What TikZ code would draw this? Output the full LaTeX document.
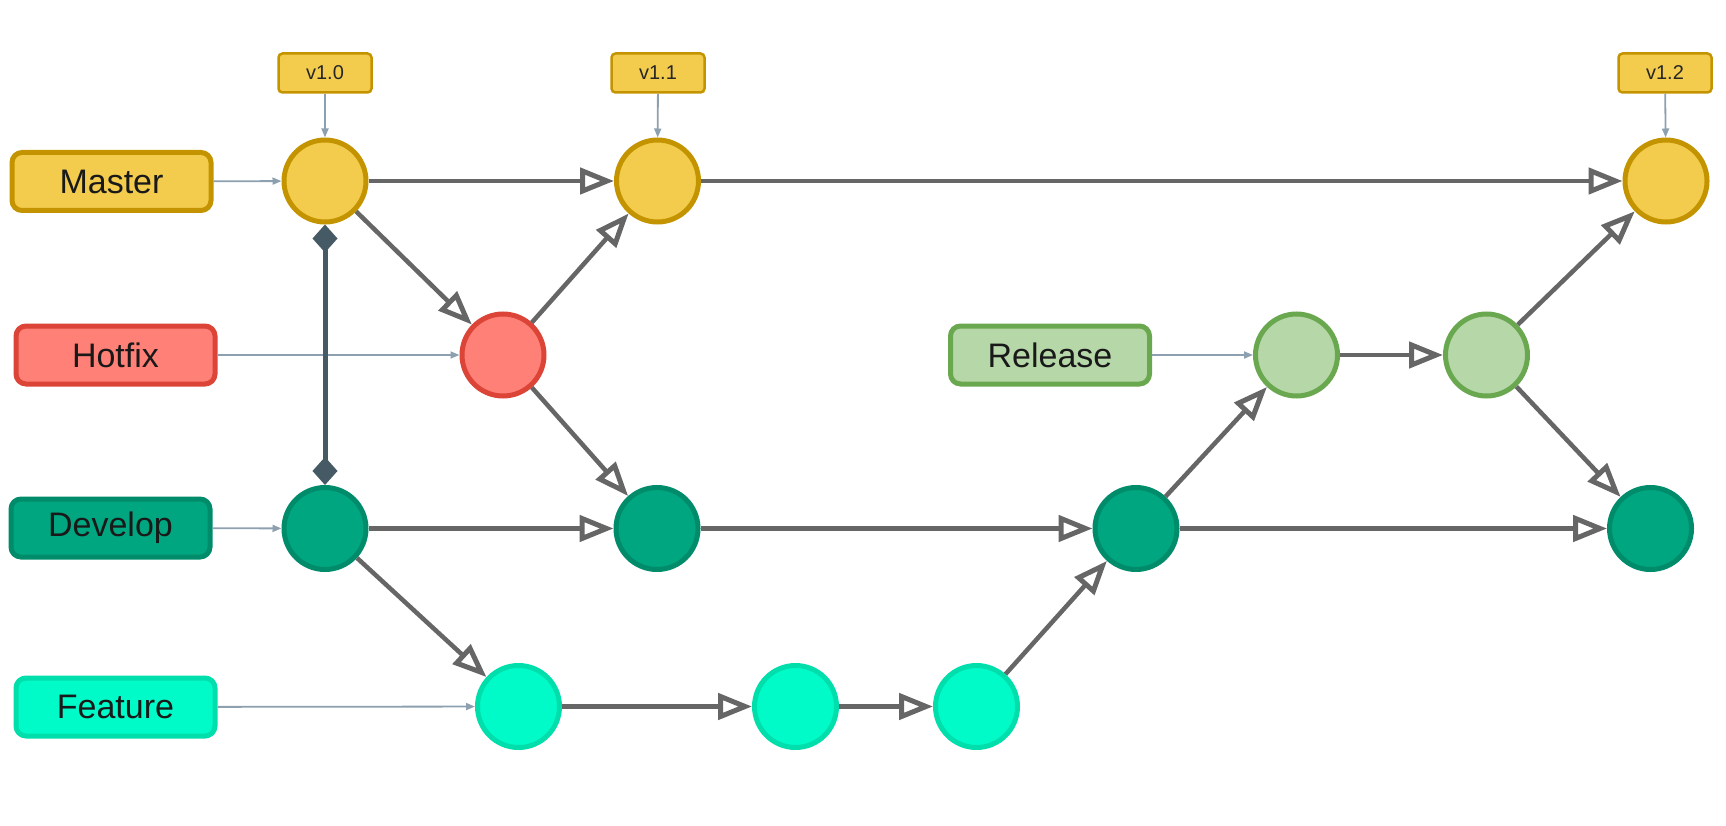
\documentclass[tikz,border=0pt]{standalone}
\usepackage{fontspec}
\setmainfont{Liberation Sans}
\usetikzlibrary{arrows.meta}
\definecolor{mfill}{RGB}{243,204,78}
\definecolor{mdraw}{RGB}{196,148,0}
\definecolor{hfill}{RGB}{255,128,118}
\definecolor{hdraw}{RGB}{219,68,55}
\definecolor{dfill}{RGB}{0,166,128}
\definecolor{ddraw}{RGB}{0,140,106}
\definecolor{ffill}{RGB}{0,250,200}
\definecolor{fdraw}{RGB}{0,222,172}
\definecolor{rfill}{RGB}{182,215,168}
\definecolor{rdraw}{RGB}{106,168,79}
\definecolor{flowgrey}{RGB}{102,102,102}
\definecolor{ptrgrey}{RGB}{140,160,175}
\definecolor{linkc}{RGB}{69,90,100}
\begin{document}
\begin{tikzpicture}[x=1pt,y=-1pt,
  commit/.style={circle, line width=5pt, minimum size=82pt, inner sep=0pt},
  mc/.style={commit, fill=mfill, draw=mdraw},
  hc/.style={commit, fill=hfill, draw=hdraw},
  dc/.style={commit, fill=dfill, draw=ddraw},
  fc/.style={commit, fill=ffill, draw=fdraw},
  rc/.style={commit, fill=rfill, draw=rdraw},
  lbl/.style={rounded corners=10pt, line width=5pt, minimum width=199pt, minimum height=58pt, inner sep=0pt, font=\fontsize{34}{40}\selectfont, text=black!90},
  tagbox/.style={rounded corners=4pt, line width=2.5pt, fill=mfill, draw=mdraw, minimum width=93pt, minimum height=39pt, inner sep=0pt, font=\fontsize{20}{24}\selectfont, text=black!85},
  flow/.style={line width=4.5pt, draw=flowgrey, -{Triangle[open,length=34pt,width=26pt,line width=5pt]}},
  ptr/.style={line width=1.8pt, draw=ptrgrey, -{Triangle[length=9pt,width=7pt]}},
  link/.style={line width=5pt, draw=linkc, {Diamond[length=28pt,width=25pt]}-{Diamond[length=28pt,width=25pt]}}
]
\useasboundingbox (0,0) rectangle (1726,826);
% labels
\node[lbl, fill=mfill, draw=mdraw] (lm) at (111.5,181.5) {Master};
\node[lbl, fill=hfill, draw=hdraw] (lh) at (115.5,355) {Hotfix};
\node[lbl, fill=dfill, draw=ddraw] (ld) at (110.5,528) {Develop};
\node[lbl, fill=ffill, draw=fdraw] (lf) at (115.5,707) {Feature};
\node[lbl, fill=rfill, draw=rdraw] (lr) at (1050,355) {Release};
% tags
\node[tagbox] (t0) at (325,73) {v1.0};
\node[tagbox] (t1) at (658,73) {v1.1};
\node[tagbox] (t2) at (1665,73) {v1.2};
% commits
\node[mc] (m1) at (325,181) {};
\node[mc] (m2) at (657.5,181) {};
\node[mc] (m3) at (1666,181) {};
\node[hc] (h1) at (503,355) {};
\node[rc] (r1) at (1296.5,355) {};
\node[rc] (r2) at (1486.5,355) {};
\node[dc] (d1) at (325,528.5) {};
\node[dc] (d2) at (657,528.5) {};
\node[dc] (d3) at (1136,528.5) {};
\node[dc] (d4) at (1650.5,528.5) {};
\node[fc] (f1) at (518.5,706.5) {};
\node[fc] (f2) at (795.5,706.5) {};
\node[fc] (f3) at (976.5,706.5) {};
% pointers
\draw[ptr] (lm) -- (m1);
\draw[ptr] (lh) -- (h1);
\draw[ptr] (ld) -- (d1);
\draw[ptr] (lf) -- (f1);
\draw[ptr] (lr) -- (r1);
\draw[ptr] (t0) -- (m1);
\draw[ptr] (t1) -- (m2);
\draw[ptr] (t2) -- (m3);
% link
\draw[link] (m1) -- (d1);
% flows
\draw[flow] (m1) -- (m2);
\draw[flow] (m2) -- (m3);
\draw[flow] (m1) -- (h1);
\draw[flow] (h1) -- (m2);
\draw[flow] (h1) -- (d2);
\draw[flow] (d1) -- (d2);
\draw[flow] (d2) -- (d3);
\draw[flow] (d3) -- (d4);
\draw[flow] (d1) -- (f1);
\draw[flow] (f1) -- (f2);
\draw[flow] (f2) -- (f3);
\draw[flow] (f3) -- (d3);
\draw[flow] (d3) -- (r1);
\draw[flow] (r1) -- (r2);
\draw[flow] (r2) -- (m3);
\draw[flow] (r2) -- (d4);
\end{tikzpicture}
\end{document}
